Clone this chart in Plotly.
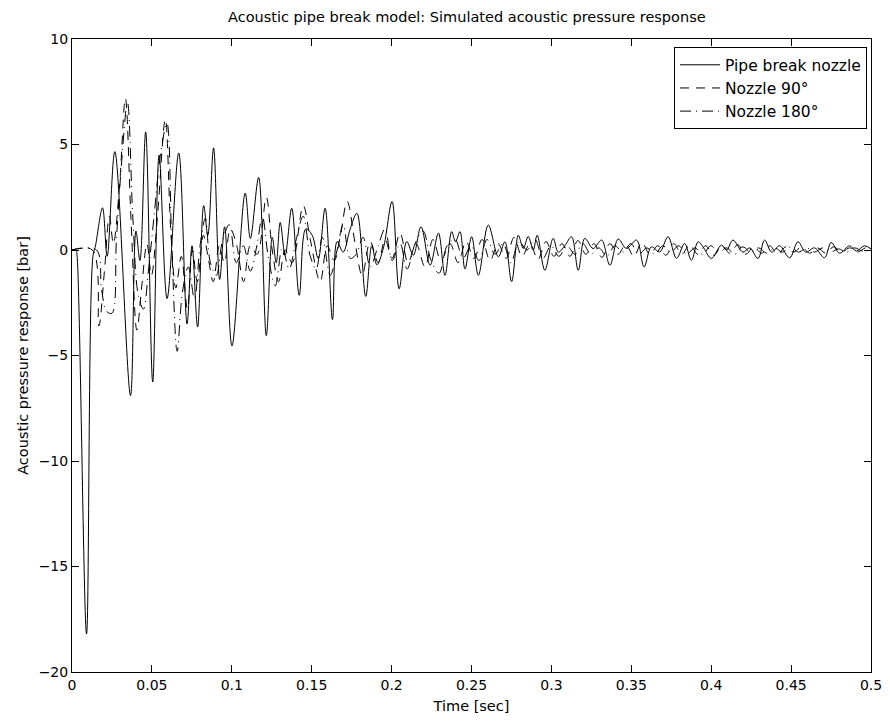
import plotly.graph_objects as go

# ---- data ----
t_pipe = [0, 0.0025, 0.0031, 0.0091, 0.0131, 0.0147, 0.0191, 0.022, 0.0268, 0.0366, 0.04, 0.0425,
          0.0461, 0.0505, 0.0545, 0.0595, 0.0668, 0.072, 0.0751, 0.0786, 0.0824, 0.085,
          0.0886, 0.0924, 0.0955, 0.1001, 0.1084, 0.1116, 0.1168, 0.1216, 0.1253, 0.1278,
          0.1303, 0.1334, 0.1375, 0.1422, 0.1463, 0.1503, 0.1541, 0.1584, 0.163, 0.1659,
          0.1697, 0.1741, 0.1783, 0.1838, 0.1876, 0.1908, 0.1949, 0.2003, 0.2047, 0.2095,
          0.2136, 0.2184, 0.2241, 0.2293, 0.2334, 0.2376, 0.24, 0.2428, 0.2459, 0.2501,
          0.2543, 0.2605, 0.2668, 0.2709, 0.2751, 0.2793, 0.2824, 0.2855, 0.2886, 0.2911,
          0.2959, 0.3011, 0.3043, 0.3084, 0.3126, 0.3168, 0.3209, 0.3261, 0.3314, 0.3366,
          0.3418, 0.347, 0.3533, 0.358, 0.3626, 0.3678, 0.373, 0.3783, 0.3834, 0.3876,
          0.3918, 0.3953, 0.4001, 0.4064, 0.4097, 0.4136, 0.4199, 0.4241, 0.4293, 0.4334,
          0.4378, 0.4428, 0.4491, 0.4543, 0.4591, 0.4647, 0.4709, 0.4751, 0.4803, 0.4866,
          0.4908, 0.4959, 0.5]
p_pipe = [0, 0, -0.2, -18.2, -0.3, 0.2, 2.0, -0.3, 4.66, -6.9, 0.9, -0.5,
          5.6, -6.26, 4.5, -2.3, 4.6, -3.5, 0.2, -3.65, 2.1, 0.7,
          4.84, -1.4, 1.1, -4.55, 2.7, 0.55, 3.44, -4.06, 0.6, -0.6,
          1.3, -0.25, 1.98, -2.15, 1.0, 0.7, -0.4, 1.98, -3.3, 0.4,
          -0.1, 1.0, 1.74, -2.2, 0.2, -0.7, 0.1, 2.3, -1.84, 0.4,
          -0.25, 1.1, -0.72, 0.8, -1.2, 0.87, 0.4, 0.87, -0.9, 0.63,
          -1.2, 1.18, -0.32, 0.39, -1.5, 0.7, 0.07, 0.64, 0.0, 0.7,
          -0.96, 0.55, -0.1, 0.2, 0.63, -0.96, 0.55, 0.07, 0.47, -0.72,
          0.52, 0.07, 0.47, -0.8, 0.15, -0.09, 0.63, -0.4, 0.31, -0.49,
          0.39, 0.1, -0.4, 0.23, 0.0, 0.47, -0.1, 0.1, -0.4, 0.47,
          -0.1, 0.2, -0.37, 0.39, -0.1, 0.1, -0.37, 0.36, -0.15, 0.2,
          -0.05, 0.2, 0.05]

t_n90 = [0, 0.0128, 0.0168, 0.0203, 0.0234, 0.0259, 0.0297, 0.0334, 0.0369, 0.0406, 0.0438,
         0.0469, 0.0497, 0.0534, 0.0584, 0.0619, 0.065, 0.0684, 0.0722, 0.0753, 0.0784,
         0.0822, 0.0853, 0.0884, 0.0922, 0.0953, 0.0991, 0.1028, 0.1074, 0.1116, 0.1159,
         0.1216, 0.1253, 0.1293, 0.1334, 0.1378, 0.1447, 0.1491, 0.1553, 0.1597, 0.1641,
         0.1678, 0.1722, 0.1772, 0.1816, 0.1866, 0.1916, 0.1959, 0.2003, 0.2053, 0.2103,
         0.2153, 0.2209, 0.2259, 0.2309, 0.2366, 0.2416, 0.2466, 0.2516, 0.2566, 0.2616,
         0.2666, 0.2716, 0.2766, 0.2816, 0.2866, 0.2916, 0.2966, 0.3016, 0.3066, 0.3116,
         0.3166, 0.3216, 0.3266, 0.3316, 0.3366, 0.3416, 0.3466, 0.3516, 0.3566, 0.3616,
         0.3666, 0.3716, 0.3766, 0.3816, 0.3866, 0.3916, 0.3966, 0.4016, 0.4066, 0.4116,
         0.4166, 0.4216, 0.4266, 0.4316, 0.4366, 0.4416, 0.4466, 0.4516, 0.4566, 0.4616,
         0.4666, 0.4716, 0.4766, 0.4816, 0.4866, 0.4916, 0.4966, 0.5]
p_n90 = [0, 0, -3.6, -1.0, 1.6, 0.3, 3.0, 7.2, 1.5, -3.8, -1.6,
         0.3, -1.2, 1.5, 6.2, 0.8, -1.8, -0.3, -2.8, 0.0, -1.5,
         0.7, -0.4, -1.5, 0.2, -0.6, 1.0, 0.3, -1.5, 0.2, -0.2,
         2.5, 0.0, -1.5, 0.0, -0.6, 2.1, 0.5, -1.5, 0.2, -0.5,
         0.6, 2.3, 0.3, -1.2, 0.4, -0.6, 0.5, -0.4, 0.8, -0.6,
         0.3, -0.8, 0.5, -0.5, 0.3, -0.6, 0.4, -0.4, 0.5, -0.5,
         0.3, -0.4, 0.6, -0.3, 0.3, -0.45, 0.4, -0.3, 0.3, -0.3,
         0.45, -0.2, 0.3, -0.35, 0.3, -0.2, 0.25, -0.3, 0.35, -0.2,
         0.2, -0.25, 0.3, -0.2, 0.25, -0.2, 0.2, -0.25, 0.2, -0.15,
         0.25, -0.2, 0.15, -0.15, 0.2, -0.2, 0.15, -0.1, 0.15, -0.15,
         0.1, -0.15, 0.15, -0.1, 0.1, -0.1, 0.1, 0.0]

t_n180 = [0, 0.0153, 0.0184, 0.0216, 0.025, 0.0278, 0.0309, 0.0347, 0.0381, 0.0416, 0.0447,
          0.0478, 0.0516, 0.0553, 0.0594, 0.0625, 0.0658, 0.0691, 0.0728, 0.0766, 0.0803,
          0.0834, 0.0866, 0.0903, 0.0941, 0.0984, 0.1028, 0.1072, 0.1116, 0.1159, 0.1191,
          0.1228, 0.1272, 0.1316, 0.1359, 0.1403, 0.1447, 0.1491, 0.1528, 0.1566, 0.1616,
          0.1659, 0.1697, 0.1741, 0.1778, 0.1822, 0.1866, 0.1916, 0.1959, 0.2003, 0.2053,
          0.2097, 0.2147, 0.2197, 0.2247, 0.2297, 0.2347, 0.2397, 0.2447, 0.2497, 0.2547,
          0.2597, 0.2647, 0.2697, 0.2747, 0.2797, 0.2847, 0.2897, 0.2947, 0.2997, 0.3047,
          0.3097, 0.3147, 0.3197, 0.3247, 0.3297, 0.3347, 0.3397, 0.3447, 0.3497, 0.3547,
          0.3597, 0.3647, 0.3697, 0.3747, 0.3797, 0.3847, 0.3897, 0.3947, 0.3997, 0.4047,
          0.4097, 0.4147, 0.4197, 0.4247, 0.4297, 0.4347, 0.4397, 0.4447, 0.4497, 0.4547,
          0.4597, 0.4647, 0.4697, 0.4747, 0.4797, 0.4847, 0.4897, 0.4947, 0.5]
p_n180 = [0, 0, -1.8, -2.9, -3.0, 0.5, 4.0, 7.0, 1.5, -2.2, -2.8,
          -1.0, 1.8, 4.5, 6.0, 0.0, -4.8, -2.0, -0.8, -2.3, 0.3,
          1.5, -0.6, -1.2, 0.4, 1.2, -0.6, 0.2, -1.0, 0.3, 1.6,
          -0.3, -1.7, 0.1, -0.9, 0.5, 1.6, -0.3, -0.9, 0.6, -1.2,
          0.0, 1.2, -0.4, -0.2, 0.6, -0.8, 0.2, 1.0, -0.5, 0.3,
          -0.9, 0.3, 0.9, -0.5, -1.1, 0.2, 0.5, -0.4, 0.2, -0.5,
          0.5, -0.2, 0.3, -0.6, 0.4, 0.0, 0.5, -0.4, 0.2, -0.3,
          0.2, -0.2, 0.3, -0.2, 0.1, -0.3, 0.2, -0.1, 0.3, -0.2,
          0.1, -0.2, 0.2, -0.1, 0.2, -0.2, 0.1, -0.2, 0.2, -0.1,
          0.1, -0.2, 0.15, -0.1, 0.1, -0.15, 0.1, -0.1, 0.15, -0.1,
          0.1, -0.1, 0.1, -0.1, 0.05, -0.1, 0.1, -0.05, 0.0]

x_ticks = [0, 0.05, 0.1, 0.15, 0.2, 0.25, 0.3, 0.35, 0.4, 0.45, 0.5]
x_ticklabels = ["0", "0.05", "0.1", "0.15", "0.2", "0.25", "0.3", "0.35", "0.4", "0.45", "0.5"]
y_ticks = [-20, -15, -10, -5, 0, 5, 10]
y_ticklabels = ["\u221220", "\u221215", "\u221210", "\u22125", "0", "5", "10"]

FONT = "DejaVu Sans, Liberation Sans, Arial, sans-serif"

fig = go.Figure()
fig.add_trace(go.Scatter(x=t_pipe, y=p_pipe, mode="lines", name="Pipe break nozzle",
                         line=dict(color="black", width=1, shape="spline", smoothing=1.0)))
fig.add_trace(go.Scatter(x=t_n90, y=p_n90, mode="lines", name="Nozzle 90\u00b0",
                         line=dict(color="black", width=1, shape="spline", smoothing=1.0,
                                   dash="9px,7px")))
fig.add_trace(go.Scatter(x=t_n180, y=p_n180, mode="lines", name="Nozzle 180\u00b0",
                         line=dict(color="black", width=1, shape="spline", smoothing=1.0,
                                   dash="11px,5px,1px,5px")))

axis_common = dict(showline=True, linecolor="black", linewidth=1, mirror="ticks",
                   ticks="inside", ticklen=7, tickcolor="black", showgrid=False,
                   zeroline=False, automargin=False, ticklabeloverflow="allow",
                   tickfont=dict(family=FONT, size=14, color="black"))

# page body has an 8px margin, so the figure is sized to the remaining viewport
fig.update_layout(
    width=874, height=706,
    margin=dict(l=63.5, r=10.5, t=31, b=42, autoexpand=False),
    paper_bgcolor="white", plot_bgcolor="white",
    font=dict(family=FONT, color="black"),
    title=dict(text="Acoustic pipe break model: Simulated acoustic pressure response",
               x=0.525, xref="container", xanchor="center", y=0.987, yref="container",
               yanchor="middle", automargin=False,
               font=dict(family=FONT, size=14.5, color="black")),
    xaxis=dict(range=[0, 0.5], tickvals=x_ticks, ticktext=x_ticklabels,
               title=dict(text="Time [sec]", font=dict(family=FONT, size=14.5), standoff=10),
               **axis_common),
    yaxis=dict(range=[-20, 10], tickvals=y_ticks, ticktext=y_ticklabels,
               title=dict(text="Acoustic pressure response [bar]", font=dict(family=FONT, size=14.5),
                          standoff=6),
               **axis_common),
    legend=dict(x=0.995, y=0.987, xanchor="right", yanchor="top",
                bordercolor="black", borderwidth=1, bgcolor="white",
                font=dict(family=FONT, size=15.5, color="black"),
                tracegroupgap=0, itemwidth=40),
    showlegend=True,
)

fig.write_html("out.html")
